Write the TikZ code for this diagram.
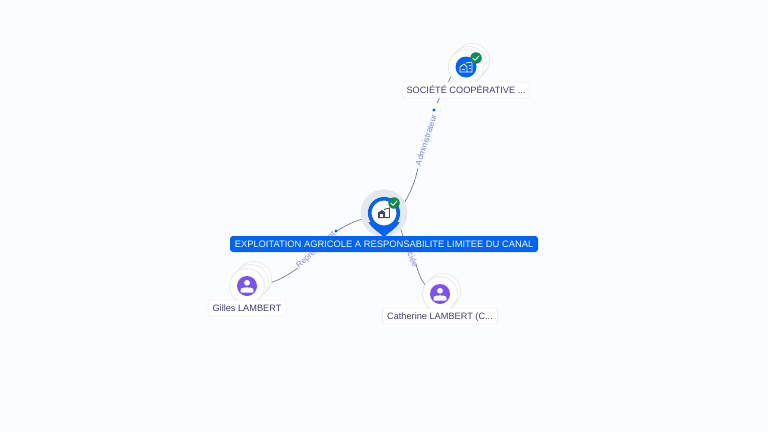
\documentclass[tikz,border=0pt]{standalone}
\usepackage{fontspec}
\setmainfont{Liberation Sans}
\definecolor{bgc}{HTML}{FAFCFF}
\definecolor{bluec}{HTML}{0063F5}
\definecolor{purplec}{HTML}{7B52EE}
\definecolor{greenc}{HTML}{0E8A4C}
\definecolor{linec}{HTML}{6E6E86}
\definecolor{labc}{HTML}{7C86E8}
\definecolor{labr}{HTML}{9080E8}
\definecolor{txtc}{HTML}{3F3F6B}
\definecolor{haloc}{HTML}{E6E7EC}
\definecolor{ringc}{HTML}{E8E8EA}
\definecolor{tagl}{HTML}{F0F1F6}
\definecolor{iconc}{HTML}{4A4A5C}
\tikzset{
 conn/.style={draw=linec,line width=0.6pt},
 edgelab/.style={text=labc,font=\fontsize{8.2}{9}\selectfont,inner sep=0pt},
 tag/.style={fill=white,draw=tagl,line width=0.8pt,rounded corners=2.5pt,text=txtc,font=\fontsize{9.2}{10}\selectfont,inner xsep=0pt,inner ysep=0pt,minimum height=16pt,text height=6.6pt,text depth=0pt},
 maintag/.style={fill=bluec,rounded corners=3pt,text=white,font=\fontsize{9.35}{10}\selectfont,inner xsep=0pt,inner ysep=0pt,minimum height=16pt,text height=6.6pt,text depth=0pt},
 disc/.style={circle,fill=white,draw=ringc,line width=0.8pt,minimum size=35pt,inner sep=0pt},
 iconb/.style={circle,fill=bluec,minimum size=21pt,inner sep=0pt},
 iconp/.style={circle,fill=purplec,minimum size=20pt,inner sep=0pt},
 badge/.style={circle,fill=greenc,minimum size=11.5pt,inner sep=0pt},
 dot/.style={fill=bluec,circle,minimum size=3.2pt,inner sep=0pt},
}
\begin{document}
\begin{tikzpicture}[x=1pt,y=-1pt]
\useasboundingbox (0,0) rectangle (768,432);
\fill[bgc] (0,0) rectangle (768,432);
% anchors
\coordinate (mA) at (400,209);
\coordinate (mR) at (368,218);
\coordinate (mC) at (398,222);
\coordinate (aA) at (418,168);
\coordinate (aB) at (437,103);
\coordinate (soc) at (452,75);
\coordinate (rA) at (335,232);
\coordinate (rB) at (298,268);
\coordinate (gil) at (269,283);
\coordinate (cA) at (403,236);
\coordinate (cB) at (416,264);
\coordinate (cat) at (426,286);
% connectors
\draw[conn] (mA) .. controls (408,198) and (414,186) .. (aA);
\draw[conn] (aB) -- (soc);
\draw[conn] (mR) .. controls (355,220) and (345,226) .. (rA);
\draw[conn] (rB) .. controls (288,275) and (280,280) .. (gil);
\draw[conn] (mC) -- (cA);
\draw[conn] (cB) .. controls (418,272) and (421,280) .. (cat);
% edge labels
\node[edgelab,rotate=72] (la) at (426,140) {Administrateur};
\node[dot] (da) at (434,110) {};
\node[edgelab,text=labr,rotate=42] (lr) at (316,250) {Représentant};
\node[dot] (dr) at (336,231) {};
\node[edgelab,text=labr,rotate=-68] (lc) at (409.5,251) {Associée};
% main node
\node[circle,fill=haloc,minimum size=47pt,inner sep=0pt] (halo) at (384,213) {};
\fill[bluec] (368.5,222) .. controls (372,229) and (379,232) .. (384,237) .. controls (389,232) and (396,229) .. (399.5,222) -- cycle;
\node[circle,fill=white,draw=bluec,line width=3.6pt,minimum size=28.5pt,inner sep=0pt] (mainc) at (384,213) {};
\begin{scope}[shift={(384,213)}]
 \fill[iconc] (-6,5) -- (-6,-0.5) -- (-2,-3) -- (1,-1) -- (1,5) -- cycle;
 \fill[white] (-4,4) rectangle (-1,0.5);
 \draw[iconc,line width=0.9pt] (0,-3.5) -- (5.5,-5) -- (5.5,4.6) -- (1,4.6);
\end{scope}
\node[badge] (mb) at (394,203) {};
\draw[white,line width=0.9pt] (390.8,203) -- (393,205.2) -- (397.2,200.8);
\node[maintag,minimum width=308pt] (mt) at (384,244) {EXPLOITATION AGRICOLE A RESPONSABILITE LIMITEE DU CANAL};
% society
\node[disc] (s3) at (472,61) {};
\node[disc] (s2) at (469,64) {};
\node[disc] (s1) at (466,67) {};
\node[iconb] (si) at (466,67) {};
\begin{scope}[shift={(466,67)}]
 \draw[white,line width=0.8pt] (-6,5) -- (-6,0) -- (-2,-3) -- (1,0) -- (1,5) -- cycle;
 \draw[white,line width=0.8pt] (0,-4) -- (6,-5) -- (6,5) -- (1,5);
 \draw[white,line width=0.7pt] (-4,2) -- (-1,2) (3,-2) -- (5,-2) (3,1) -- (5,1);
\end{scope}
\node[badge] (sb) at (476,58) {};
\draw[white,line width=0.9pt] (472.8,58) -- (475,60.2) -- (479.2,55.8);
\node[tag,minimum width=126pt] (st) at (466,90) {SOCIÉTÉ COOPÉRATIVE ...};
% gilles
\node[disc] (g3) at (254,279) {};
\node[disc] (g2) at (251,282) {};
\node[disc] (g1) at (247,286) {};
\node[iconp] (gi) at (247,286) {};
\fill[white] (247,282.8) circle (2.9pt);
\fill[white,rounded corners=1pt] (240.5,292.5) -- (240.5,289.5) .. controls (242,287) and (252,287) .. (253.5,289.5) -- (253.5,292.5) -- cycle;
\node[tag,minimum width=78pt] (gt) at (247,308) {Gilles LAMBERT};
% catherine
\node[disc] (c2) at (443,291) {};
\node[disc] (c1) at (440,294) {};
\node[iconp] (ci) at (440,294) {};
\fill[white] (440,290.8) circle (2.9pt);
\fill[white,rounded corners=1pt] (433.5,300.5) -- (433.5,297.5) .. controls (435,295) and (445,295) .. (446.5,297.5) -- (446.5,300.5) -- cycle;
\node[tag,minimum width=115pt] (ct) at (440,316) {Catherine LAMBERT (C...};
\end{tikzpicture}
\end{document}
